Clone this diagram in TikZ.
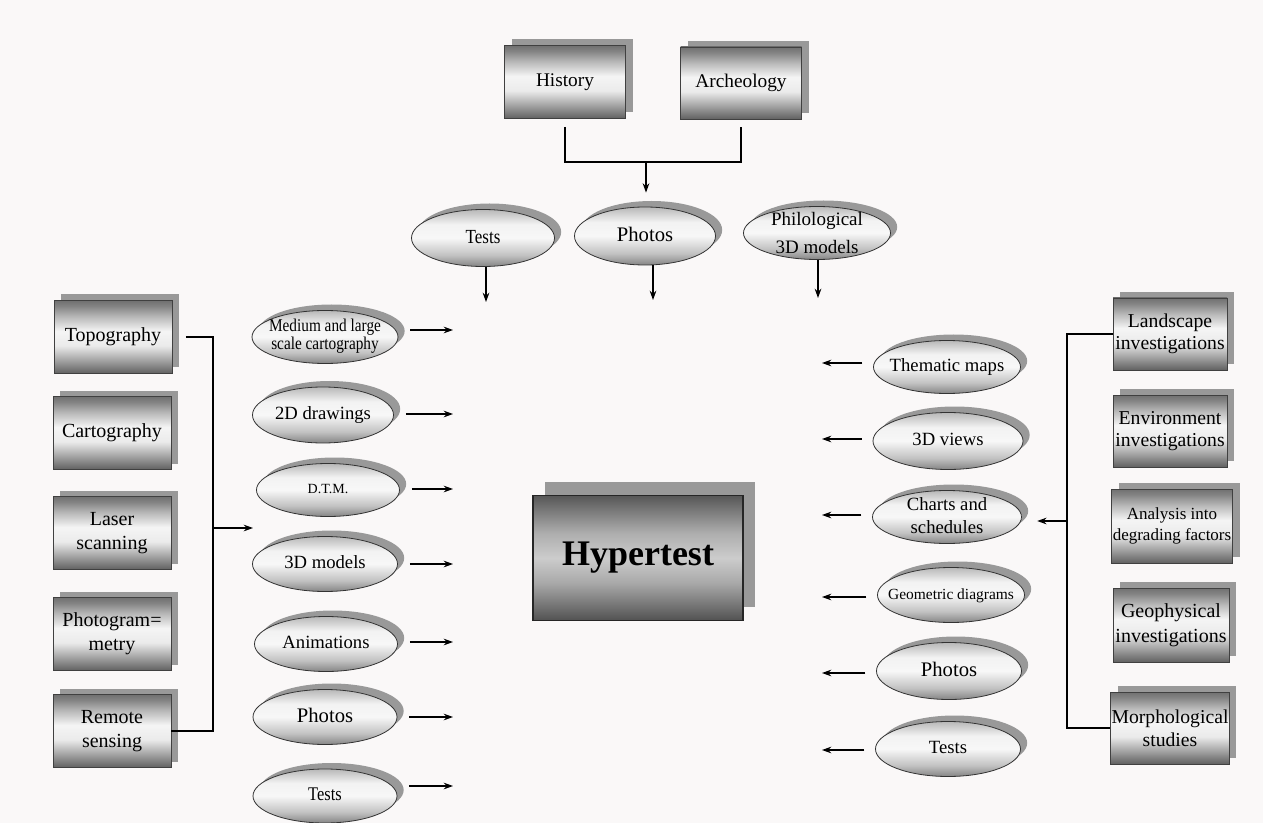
\documentclass[tikz,border=0pt]{standalone}
\usepackage{fontspec}
\usepackage{graphicx}
\setmainfont{Liberation Serif}
\usetikzlibrary{shapes.geometric,shadows,arrows.meta}
\definecolor{bgc}{RGB}{250,248,248}
\pgfdeclareverticalshading{boxsh}{100bp}{color(0bp)=(black!62); color(25bp)=(black!62); color(32bp)=(black!42); color(44bp)=(black!8); color(54bp)=(black!4); color(64bp)=(black!28); color(71bp)=(black!48); color(75bp)=(black!56); color(100bp)=(black!56)}
\pgfdeclareverticalshading{ellsh}{100bp}{color(0bp)=(black!48); color(25bp)=(black!48); color(35bp)=(black!24); color(50bp)=(black!3); color(62bp)=(black!5); color(75bp)=(black!28); color(100bp)=(black!28)}
\pgfdeclareverticalshading{hypsh}{100bp}{color(0bp)=(black!68); color(25bp)=(black!68); color(40bp)=(black!34); color(50bp)=(black!20); color(60bp)=(black!32); color(75bp)=(black!66); color(100bp)=(black!66)}
\newcommand\zt[1]{\makebox[0pt]{\smash{\raisebox{-0.28em}{\begin{tabular}{@{}c@{}}#1\end{tabular}}}}}
\newcommand\zc[2]{\makebox[0pt]{\smash{\raisebox{-0.28em}{\scalebox{#1}[1]{\begin{tabular}{@{}c@{}}#2\end{tabular}}}}}}
\begin{document}
\begin{tikzpicture}[x=0.75pt,y=-0.75pt,
  sbox/.style={rectangle, draw=black!75, line width=0.7pt, shading=boxsh, align=center, inner sep=0.5pt,
    font=\fontsize{15}{18}\selectfont,
    drop shadow={shadow xshift=5.25pt, shadow yshift=4.5pt, fill=black!40, opacity=1}},
  sell/.style={ellipse, draw=black!80, line width=0.6pt, shading=ellsh, inner sep=0pt,
    font=\fontsize{14}{16.5}\selectfont,
    drop shadow={shadow xshift=5pt, shadow yshift=4.5pt, fill=black!40, opacity=1}},
  arr/.style={-{Stealth[length=7pt,width=5pt]}, line width=0.9pt},
  con/.style={line width=0.9pt}]
\useasboundingbox[fill=bgc] (0,0) rectangle (1263,823);

% ---- top boxes
\node[sbox, minimum width=90.75pt, minimum height=54.75pt, font=\fontsize{14.5}{17}\selectfont] (hist) at (565,82) {History};
\node[sbox, minimum width=90.75pt, minimum height=54pt, font=\fontsize{14.5}{17}\selectfont] (arch) at (741,83) {Archeology};

% ---- top ellipses
\node[sell, minimum width=107.25pt, minimum height=42.75pt, font=\fontsize{15}{16}\selectfont] (testsT) at (483,238) {\zc{0.85}{Tests}};
\node[sell, minimum width=105.75pt, minimum height=43.5pt, font=\fontsize{15.5}{18}\selectfont] (photosT) at (645,236) {\zt{Photos}};
\node[sell, minimum width=110.25pt, minimum height=39.75pt, font=\fontsize{14.25}{21}\selectfont] (philT) at (817,233) {\zt{Philological\\3D models}};

\coordinate (j) at (646,162);
\draw[con, shorten <=6pt, shorten >=6pt] (hist.south) |- (j) -| (arch.south);
\draw[arr, shorten >=10.5pt] (j) -- (j |- photosT.north);

\coordinate (tT) at (486,302);
\coordinate (tP) at (653,300);
\coordinate (tPh) at (818,298);
\draw[arr] (testsT.south -| tT) -- (tT);
\draw[arr] (photosT.south -| tP) -- (tP);
\draw[arr] (philT.south -| tPh) -- (tPh);

% ---- centre
\node[rectangle, draw=black!85, line width=0.8pt, shading=hypsh, minimum width=157.5pt, minimum height=93.75pt,
  font=\fontsize{27}{30}\selectfont\bfseries,
  drop shadow={shadow xshift=9pt, shadow yshift=10pt, fill=black!40, opacity=1}] (hyp) at (638,558) {Hypertest};

% ---- left boxes
\node[sbox, minimum width=88.5pt, minimum height=54.75pt] (topo) at (113,337) {Topography};
\node[sbox, minimum width=88.5pt, minimum height=54.75pt] (carto) at (112,433) {Cartography};
\node[sbox, minimum width=88.5pt, minimum height=54.75pt] (laser) at (112,533) {Laser\\scanning};
\node[sbox, minimum width=88.5pt, minimum height=54.75pt] (photog) at (112,634) {Photogram=\\metry};
\node[sbox, minimum width=88.5pt, minimum height=54.75pt] (remote) at (112,731) {Remote\\sensing};

\coordinate (lb) at (213,528);
\coordinate (la) at (253,528);
\draw[con, shorten <=10pt] (topo.east) -| (lb) |- (remote.east);
\draw[arr] (lb) -- (la);

% ---- left ellipses
\node[sell, minimum width=109.5pt, minimum height=39.75pt, font=\fontsize{13.5}{13.5}\selectfont] (e1) at (325,337) {\zc{0.85}{Medium and large\\scale cartography}};
\node[sell, minimum width=105.75pt, minimum height=42pt] (e2) at (323,415) {\zt{2D drawings}};
\node[sell, minimum width=107.25pt, minimum height=39.75pt, font=\fontsize{10.5}{12}\selectfont] (e3) at (328,490) {\zt{D.T.M.}};
\node[sell, minimum width=108.75pt, minimum height=41.25pt] (e4) at (325,564) {\zt{3D models}};
\node[sell, minimum width=107.25pt, minimum height=41.25pt] (e5) at (326,644) {\zt{Animations}};
\node[sell, minimum width=108pt, minimum height=41.25pt, font=\fontsize{15.5}{18}\selectfont] (e6) at (325,717) {\zt{Photos}};
\node[sell, minimum width=108pt, minimum height=40.5pt, font=\fontsize{14.5}{16}\selectfont] (e7) at (325,796) {\zc{0.85}{Tests}};

\coordinate (a1) at (453,330);
\coordinate (a2) at (453,414);
\coordinate (a3) at (453,489);
\coordinate (a4) at (453,564);
\coordinate (a5) at (453,642);
\coordinate (a6) at (453,717);
\coordinate (a7) at (453,786);
\foreach \e/\a in {e1/a1,e2/a2,e3/a3,e4/a4,e5/a5,e6/a6,e7/a7}
  \draw[arr, shorten <=9pt] (\e.east |- \a) -- (\a);

% ---- right ellipses
\node[sell, minimum width=110.25pt, minimum height=39.75pt] (r1) at (947,367) {\zt{Thematic maps}};
\node[sell, minimum width=112.5pt, minimum height=42.75pt] (r2) at (948,441) {\zt{3D views}};
\node[sell, minimum width=111.75pt, minimum height=39.75pt, font=\fontsize{14}{17}\selectfont] (r3) at (947,517) {\zt{Charts and\\schedules}};
\node[sell, minimum width=110.25pt, minimum height=41.25pt, font=\fontsize{11.6}{14}\selectfont] (r4) at (951,595) {\zt{Geometric diagrams}};
\node[sell, minimum width=108.75pt, minimum height=42.75pt, font=\fontsize{15.5}{18}\selectfont] (r5) at (949,671) {\zt{Photos}};
\node[sell, minimum width=108.75pt, minimum height=41.25pt, font=\fontsize{14}{16}\selectfont] (r6) at (948,749) {\zt{Tests}};

\coordinate (b1) at (822,363);
\coordinate (b2) at (822,439);
\coordinate (b3) at (822,515);
\coordinate (b4) at (822,597);
\coordinate (b5) at (822,673);
\coordinate (b6) at (822,750);
\foreach \r/\b in {r1/b1,r2/b2,r3/b3,r4/b4,r5/b5,r6/b6}
  \draw[arr, shorten <=8pt] (\r.west |- \b) -- (\b);

% ---- right boxes
\node[sbox, minimum width=85.5pt, minimum height=54pt, font=\fontsize{14.75}{16.5}\selectfont] (land) at (1170,334) {Landscape\\investigations};
\node[sbox, minimum width=85.5pt, minimum height=54pt, font=\fontsize{14.75}{16.5}\selectfont] (env) at (1170,431) {Environment\\investigations};
\node[sbox, minimum width=90.75pt, minimum height=55.5pt, font=\fontsize{12.75}{16}\selectfont] (anal) at (1172,526) {Analysis into\\degrading factors};
\node[sbox, minimum width=87pt, minimum height=55.5pt, font=\fontsize{15}{18.5}\selectfont] (geo) at (1171,625) {Geophysical\\investigations};
\node[sbox, minimum width=86.25pt, minimum height=54pt, font=\fontsize{14.75}{17.5}\selectfont] (morph) at (1170,728) {Morphological\\studies};

\coordinate (rb) at (1067,521);
\draw[con] (land.west) -| (rb) |- (morph.west);
\draw[arr, shorten >=11.5pt] (rb) -- (r3.east |- rb);
\end{tikzpicture}
\end{document}
